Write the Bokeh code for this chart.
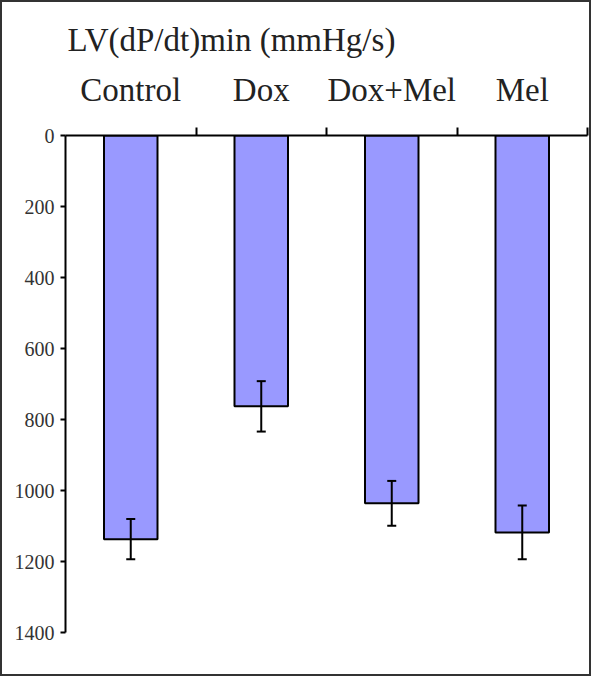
from bokeh.plotting import figure
from bokeh.models import (ColumnDataSource, Range1d, LinearAxis,
                          FixedTicker, Whisker, TeeHead)
from bokeh.embed import file_html
from bokeh.resources import INLINE

categories = ["Control", "Dox", "Dox+Mel", "Mel"]
means = [1137, 763, 1036, 1118]
errors = [57, 71, 63, 76]
y_ticks = [0, 200, 400, 600, 800, 1000, 1200, 1400]
title_text = "LV(dP/dt)min (mmHg/s)"

n = len(categories)
centers = [i + 0.5 for i in range(n)]
boundaries = list(range(1, n + 1))
lower = [m - e for m, e in zip(means, errors)]
upper = [m + e for m, e in zip(means, errors)]
src = ColumnDataSource(dict(x=centers, mean=means, lower=lower, upper=upper))

p = figure(width=591, height=676, output_backend="svg", toolbar_location=None,
           x_range=Range1d(0, n), y_range=Range1d(1400, 0),
           x_axis_location=None, y_axis_location=None,
           min_border_left=63, min_border_right=6, min_border_top=133,
           min_border_bottom=46)
p.styles = {"border": "2px solid #333"}
p.outline_line_color = None
p.xgrid.grid_line_color = None
p.ygrid.grid_line_color = None
p.background_fill_color = "white"
p.border_fill_color = "white"

p.vbar(x="x", top="mean", bottom=0, width=0.41, source=src,
       fill_color="#9999FF", line_color="black", line_width=2)

w = Whisker(base="x", lower="lower", upper="upper", source=src,
            line_color="black", line_width=2, level="overlay",
            upper_head=TeeHead(size=9, line_color="black", line_width=2),
            lower_head=TeeHead(size=9, line_color="black", line_width=2))
p.add_layout(w)

# left y axis
yax = LinearAxis(ticker=FixedTicker(ticks=y_ticks))
yax.axis_line_width = 2
yax.axis_line_color = "black"
yax.major_tick_line_width = 2
yax.major_tick_out = 5
yax.major_tick_in = 0
yax.minor_tick_line_color = None
yax.major_label_standoff = 6
yax.major_label_text_font = "Liberation Sans Narrow"
yax.major_label_text_font_size = "20px"
yax.major_label_text_color = "#333"
p.add_layout(yax, "left")

# top axis: labels at category centres, ticks at category boundaries
xax = LinearAxis(ticker=FixedTicker(ticks=centers, minor_ticks=boundaries),
                 major_label_overrides={c: lab for c, lab in zip(centers, categories)})
xax.axis_line_width = 2
xax.axis_line_color = "black"
xax.major_tick_line_color = None
xax.major_tick_out = 8
xax.major_tick_in = 0
xax.minor_tick_line_color = "black"
xax.minor_tick_line_width = 2
xax.minor_tick_out = 8
xax.minor_tick_in = 0
xax.major_label_standoff = 20
xax.major_label_text_font = "Liberation Serif"
xax.major_label_text_font_size = "33px"
xax.major_label_text_color = "#222"
p.add_layout(xax, "above")

p.title.text = title_text
p.title.text_font = "Liberation Serif"
p.title.text_font_size = "33px"
p.title.text_font_style = "normal"
p.title.text_color = "#222"
p.title.offset = 2
p.title.standoff = 22

open("out.html", "w").write(file_html(p, INLINE))
